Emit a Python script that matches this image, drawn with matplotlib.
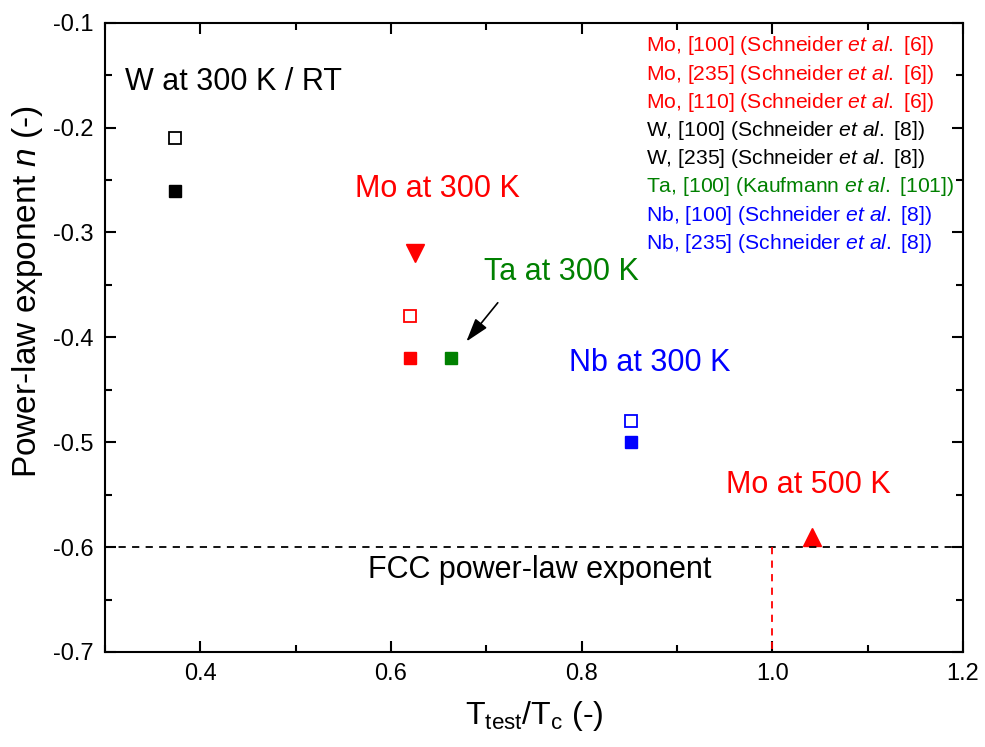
import matplotlib
matplotlib.use("Agg")
import matplotlib.pyplot as plt
from matplotlib.ticker import MultipleLocator

plt.rcParams['font.family'] = ['Liberation Sans', 'DejaVu Sans']
plt.rcParams['mathtext.fontset'] = 'custom'
plt.rcParams['mathtext.rm'] = 'Liberation Sans'
plt.rcParams['mathtext.it'] = 'Liberation Sans:italic'

RED, GREEN, BLUE = '#ff0000', '#008000', '#0000ff'

# data
w_x = [0.373, 0.373]
w_y = [-0.21, -0.26]          # [235] hollow, [100] filled
mo_x = [0.62, 0.62, 0.625]
mo_y = [-0.38, -0.42, -0.32]  # [235] hollow, [100] filled, [110] triangle
ta_x = [0.663]
ta_y = [-0.42]
nb_x = [0.852, 0.852]
nb_y = [-0.48, -0.50]
mo500_x = [1.042]
mo500_y = [-0.59]
fcc_n = -0.6

legend_lines = [
    (r'Mo, [100] (Schneider $\mathit{et\ al.}$ [6])', RED),
    (r'Mo, [235] (Schneider $\mathit{et\ al.}$ [6])', RED),
    (r'Mo, [110] (Schneider $\mathit{et\ al.}$ [6])', RED),
    (r'W, [100] (Schneider $\mathit{et\ al.}$ [8])', 'black'),
    (r'W, [235] (Schneider $\mathit{et\ al.}$ [8])', 'black'),
    (r'Ta, [100] (Kaufmann $\mathit{et\ al.}$ [101])', GREEN),
    (r'Nb, [100] (Schneider $\mathit{et\ al.}$ [8])', BLUE),
    (r'Nb, [235] (Schneider $\mathit{et\ al.}$ [8])', BLUE),
]

fig = plt.figure(figsize=(9.85, 7.47), dpi=100)
ax = fig.add_axes([0.1066, 0.1272, 0.8711, 0.8424])

sq = 9
tri = 12.5
ax.plot(w_x[:1], w_y[:1], 's', ms=sq, mfc='white', mec='black', mew=1.3)
ax.plot(w_x[1:], w_y[1:], 's', ms=sq, color='black')
ax.plot(mo_x[:1], mo_y[:1], 's', ms=sq, mfc='white', mec=RED, mew=1.3)
ax.plot(mo_x[1:2], mo_y[1:2], 's', ms=sq, color=RED)
ax.plot(mo_x[2:], mo_y[2:], 'v', ms=tri, color=RED)
ax.plot(ta_x, ta_y, 's', ms=sq, color=GREEN)
ax.plot(nb_x[:1], nb_y[:1], 's', ms=sq, mfc='white', mec=BLUE, mew=1.3)
ax.plot(nb_x[1:], nb_y[1:], 's', ms=sq, color=BLUE)
ax.plot(mo500_x, mo500_y, '^', ms=tri, color=RED)

ax.axhline(fcc_n, color='black', ls=(0, (4, 3.5)), lw=1.3)
ax.plot([1.0, 1.0], [fcc_n, -0.7], color=RED, ls=(0, (4, 3.5)), lw=1.3)

ax.text(0.321, -0.157, 'W at 300 K / RT', fontsize=22, va='center')
ax.text(0.562, -0.259, 'Mo at 300 K', fontsize=22, color=RED, va='center')
ax.text(0.698, -0.338, 'Ta at 300 K', fontsize=22, color=GREEN, va='center')
ax.text(0.787, -0.424, 'Nb at 300 K', fontsize=22, color=BLUE, va='center')
ax.text(0.951, -0.541, 'Mo at 500 K', fontsize=22, color=RED, va='center')
ax.text(0.576, -0.622, 'FCC power-law exponent', fontsize=22, va='center')

ax.annotate('', xy=(0.679, -0.404), xytext=(0.712, -0.367),
            arrowprops=dict(arrowstyle='-|>,head_width=0.25,head_length=0.8',
                            color='black', lw=1.2,
                            mutation_scale=18, shrinkA=0, shrinkB=0))

for i, (txt, c) in enumerate(legend_lines):
    ax.text(0.6305, 0.963 - i * 0.0448, txt, color=c, fontsize=15.2,
            va='center', ha='left', transform=ax.transAxes)

ax.set_xlim(0.3, 1.2)
ax.set_ylim(-0.7, -0.1)
ax.xaxis.set_minor_locator(MultipleLocator(0.1))
ax.yaxis.set_minor_locator(MultipleLocator(0.05))
ax.set_xticks([0.4, 0.6, 0.8, 1.0, 1.2])
ax.set_xticklabels(['0.4', '0.6', '0.8', '1.0', '1.2'])
ax.set_yticks([-0.1, -0.2, -0.3, -0.4, -0.5, -0.6, -0.7])
ax.set_yticklabels(['-0.1', '-0.2', '-0.3', '-0.4', '-0.5', '-0.6', '-0.7'])
ax.tick_params(which='both', direction='in', top=True, right=True,
               labelsize=17, width=1.5, pad=8)
ax.tick_params(which='major', length=8)
ax.tick_params(which='minor', length=5)
for s in ax.spines.values():
    s.set_linewidth(1.5)

ax.set_ylabel(r'Power-law exponent $\mathit{n}$ (-)', fontsize=24)
ax.yaxis.set_label_coords(-0.07, 0.573)
ax.set_xlabel(r'T$_{\mathregular{test}}$/T$_{\mathregular{c}}$ (-)', fontsize=23,
              labelpad=10)

fig.savefig('out.png', dpi=100)
